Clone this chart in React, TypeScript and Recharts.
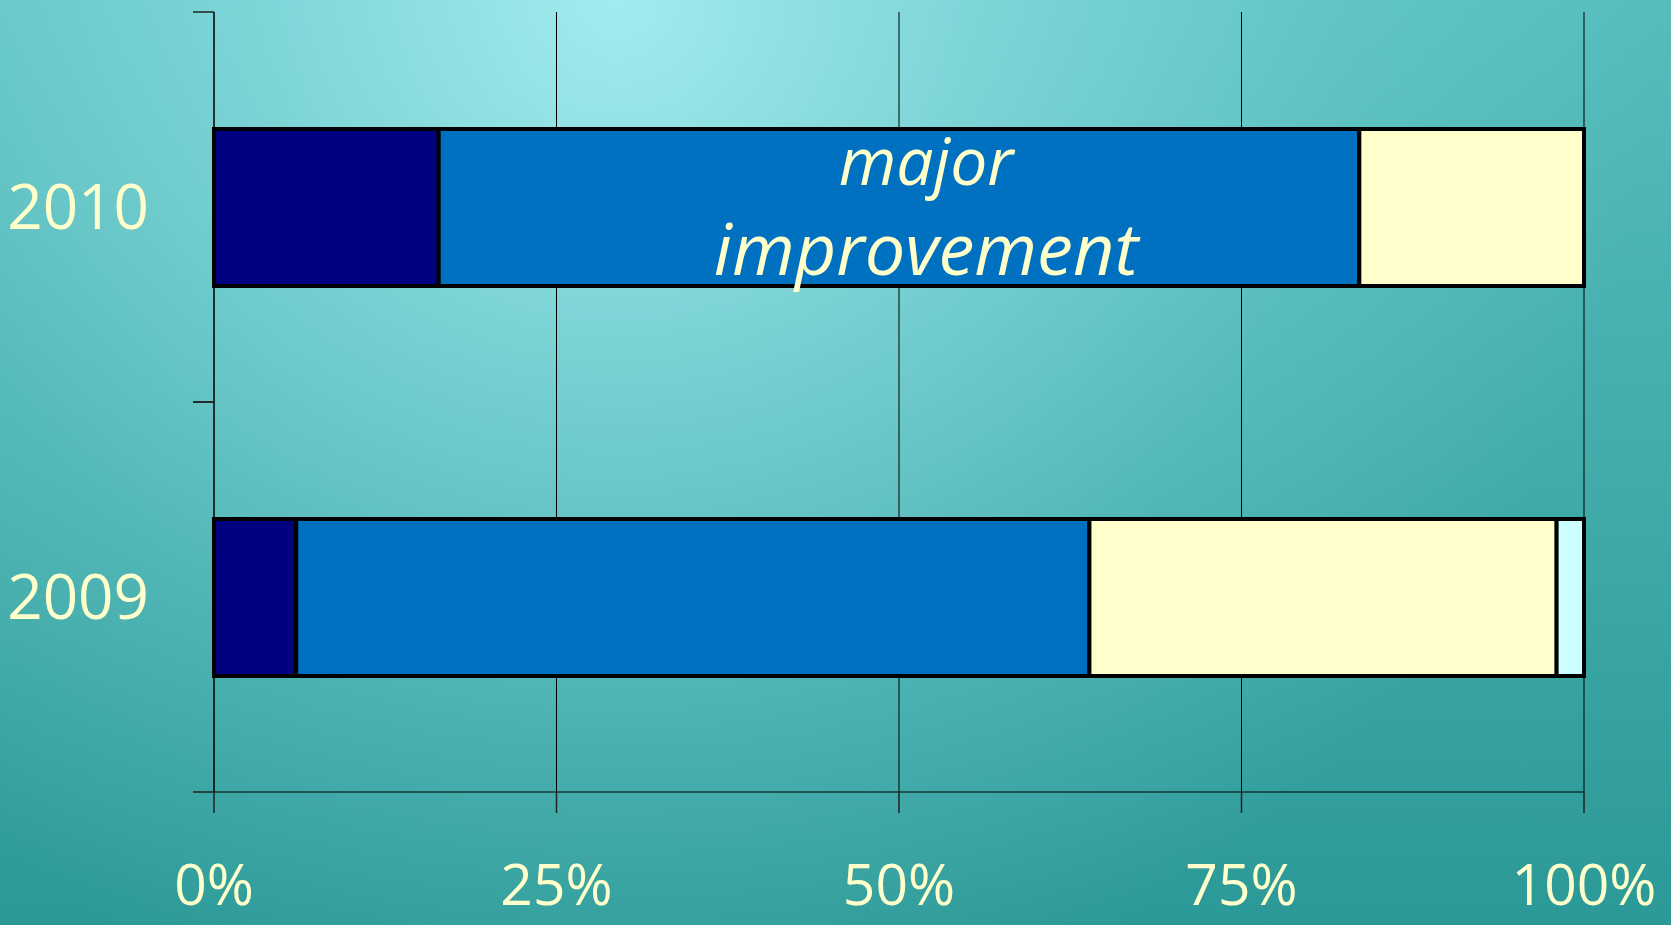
import React from 'react';
import { BarChart, Bar, XAxis, YAxis, CartesianGrid, LabelList } from 'recharts';

const categories = ['2010', '2009'];
const navyValues = [16.4, 6.0];
const blueValues = [67.2, 57.9];
const creamValues = [16.4, 34.1];
const cyanValues = [0, 2.0];
const notes = ['major improvement', ''];
const xTicks = [0, 25, 50, 75, 100];

const data = categories.map((c, i) => ({
  year: c,
  navy: navyValues[i],
  blue: blueValues[i],
  cream: creamValues[i],
  cyan: cyanValues[i],
  note: notes[i],
}));

const CREAM = '#FFFFCC';
const FONT = "'Comic Sans MS', 'Open Sans', sans-serif";

const YTick = (props: any) => {
  const { x, y, payload } = props;
  const half = payload && typeof payload.offset === 'number' && payload.offset > 0 ? payload.offset : 195;
  const lx1 = x + 44;
  const lx2 = x + 65;
  return (
    <g>
      <text x={x} y={y} dy="0.35em" textAnchor="end" fill={CREAM} fontFamily={FONT} fontSize={62}>
        {payload.value}
      </text>
      <line x1={lx1} x2={lx2} y1={y - half} y2={y - half} stroke="#222" strokeWidth={1.5} />
      <line x1={lx1} x2={lx2} y1={y + half} y2={y + half} stroke="#222" strokeWidth={1.5} />
    </g>
  );
};

const XTick = (props: any) => {
  const { x, y, payload } = props;
  return (
    <text x={x} y={y} dy={40} textAnchor="middle" fill={CREAM} fontFamily={FONT} fontSize={57}>
      {`${payload.value}%`}
    </text>
  );
};

const NoteLabel = (props: any) => {
  const { x, y, width, value } = props;
  if (!value) return null;
  const words = String(value).split(' ');
  const cx = x + width / 2 + 27;
  return (
    <g>
      <text x={cx} y={y + 56} fill={CREAM} fontFamily={FONT} fontStyle="italic" fontSize={66} textAnchor="middle">
        {words[0]}
      </text>
      <text x={cx} y={y + 146} fill={CREAM} fontFamily={FONT} fontStyle="italic" fontSize={72} textAnchor="middle">
        {words.slice(1).join(' ')}
      </text>
    </g>
  );
};

export default function App() {
  return (
    <div
      style={{
        position: 'absolute',
        left: 0,
        top: 0,
        width: 1671,
        height: 925,
        background:
          'radial-gradient(ellipse 62% 115% at 37% 0%, rgba(165,238,241,0.95) 0%, rgba(150,228,231,0.62) 35%, rgba(130,215,218,0.28) 70%, rgba(120,210,212,0) 100%), linear-gradient(to bottom, #56BDBD 0%, #42ACAB 50%, #2B9997 100%)',
      }}
    >
      <BarChart
        width={1671}
        height={925}
        data={data}
        layout="vertical"
        margin={{ top: 12, right: 87, bottom: 0, left: 0 }}
        barSize={157}
      >
        <CartesianGrid horizontal={false} vertical={true} stroke="#000" strokeWidth={1} />
        <XAxis
          type="number"
          domain={[0, 100]}
          ticks={xTicks}
          height={133}
          tickSize={21}
          tickMargin={52}
          axisLine={{ stroke: '#000', strokeWidth: 1 }}
          tickLine={{ stroke: '#222', strokeWidth: 1.5 }}
          tick={<XTick />}
          interval={0}
        />
        <YAxis
          type="category"
          dataKey="year"
          width={214}
          tickSize={21}
          tickMargin={44}
          axisLine={{ stroke: '#000', strokeWidth: 1 }}
          tickLine={false}
          tick={<YTick />}
          interval={0}
        />
        <Bar dataKey="navy" stackId="a" fill="#000080" stroke="#000" strokeWidth={4} isAnimationActive={false} />
        <Bar dataKey="blue" stackId="a" fill="#0070C0" stroke="#000" strokeWidth={4} isAnimationActive={false}>
          <LabelList dataKey="note" content={<NoteLabel />} />
        </Bar>
        <Bar dataKey="cream" stackId="a" fill="#FFFFCC" stroke="#000" strokeWidth={4} isAnimationActive={false} />
        <Bar dataKey="cyan" stackId="a" fill="#CCFFFF" stroke="#000" strokeWidth={4} isAnimationActive={false} />
      </BarChart>
    </div>
  );
}
